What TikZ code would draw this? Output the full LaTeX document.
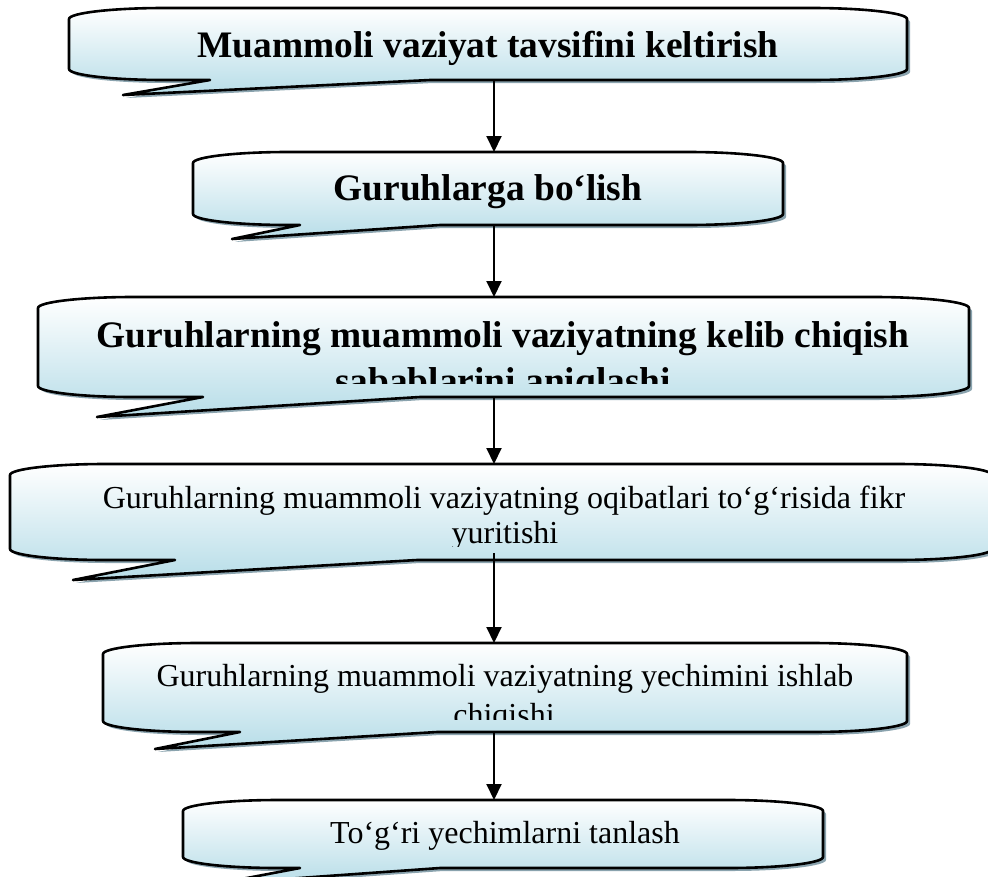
\documentclass[tikz,border=0pt]{standalone}
\usepackage{fontspec}
\setmainfont{Liberation Serif}
\usepackage{tikz}
\usetikzlibrary{arrows.meta}
\definecolor{cblue}{RGB}{183,221,232}
\definecolor{cshadow}{RGB}{138,163,174}
\tikzset{
  calbox/.style={draw=black, line width=2.6pt, line join=round, top color=white, bottom color=cblue,
    preaction={fill=cshadow, transform canvas={shift={(3pt,-3pt)}}}},
  arr/.style={line width=2pt, ->, >={Triangle[width=15pt,length=16pt]}},
  boldtxt/.style={font=\fontsize{37.4}{41}\selectfont\bfseries, anchor=base, inner sep=0pt},
  plaintxt/.style={font=\fontsize{32}{36}\selectfont, anchor=base, inner sep=0pt},
}
% name, left, top, right, bottom, pointer base x, tip x, tip y, join x
\newcommand{\callout}[9]{%
  \draw[calbox] (#2,#3+11) -- (#2,#5-11) .. controls (#2,#5-5) and (#2+43,#5) .. (#2+95,#5)
    -- (#6,#5) -- (#7,#8) -- (#9,#5) -- (#4-95,#5) .. controls (#4-43,#5) and (#4,#5-5) .. (#4,#5-11)
    -- (#4,#3+11) .. controls (#4,#3+5) and (#4-43,#3) .. (#4-95,#3)
    -- (#2+95,#3) .. controls (#2+43,#3) and (#2,#3+5) .. (#2,#3+11) -- cycle;
  \coordinate (#1-n) at (494,#3);
  \coordinate (#1-s) at (494,#5);
}

\begin{document}
\begin{tikzpicture}[x=1pt, y=-1pt]
\useasboundingbox (0,0) rectangle (988,876);
% boxes
\callout{m1}{69}{8}{907}{80}{210}{123}{95}{430}
\callout{m2}{193}{152}{783}{225}{300}{232}{239}{440}
\callout{m3}{38}{297}{969}{397}{203}{97}{417}{420}
\callout{m4}{10}{464}{992}{560}{175}{73}{580}{417}
\callout{m5}{103}{643}{907}{732}{240}{155}{749}{437}
\callout{m6}{183}{800}{823}{868}{300}{215}{884}{440}

% texts
\node[boldtxt] (t1) at (488,57) {Muammoli vaziyat tavsifini keltirish};
\node[boldtxt] (t2) at (488,200) {Guruhlarga bo‘lish};
\begin{scope}
\clip (38,297) rectangle (969,383);
\node[boldtxt] (t3) at (503,347) {Guruhlarning muammoli vaziyatning kelib chiqish};
\node[boldtxt] (t3b) at (503,393) {sabablarini aniqlashi};
\end{scope}
\begin{scope}
\clip (10,464) rectangle (988,546);
\node[plaintxt] (t4) at (504,508) {Guruhlarning muammoli vaziyatning oqibatlari to‘g‘risida fikr};
\node[plaintxt] (t4b) at (505,543) {yuritishi};
\end{scope}
\begin{scope}
\clip (103,643) rectangle (907,719);
\node[plaintxt] (t5) at (505,686) {Guruhlarning muammoli vaziyatning yechimini ishlab};
\node[plaintxt] (t5b) at (504,725) {chiqishi};
\end{scope}
\node[plaintxt] (t6) at (505,843) {To‘g‘ri yechimlarni tanlash};

% arrows
\foreach \a/\b in {m1/m2, m2/m3, m3/m4, m5/m6}
  \draw[arr] (\a-s) -- (\b-n);
\draw[arr] ([yshift=7pt]m4-s) -- (m5-n);
\end{tikzpicture}
\end{document}
